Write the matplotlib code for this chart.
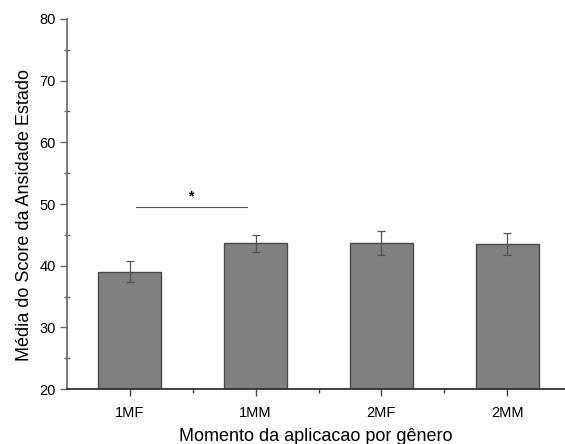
import matplotlib
matplotlib.use("Agg")
import matplotlib.pyplot as plt
import numpy as np

plt.rcParams['font.family'] = ['Liberation Sans', 'DejaVu Sans']

# data
grupos = ['1MF', '1MM', '2MF', '2MM']
medias = [39.0, 43.6, 43.7, 43.5]
erros = [1.7, 1.35, 2.0, 1.75]
sig_par = (0, 1)
sig_altura = 49.5

fig = plt.figure(figsize=(5.65, 4.44), dpi=100)
ax = fig.add_axes([67 / 565, 1 - 389 / 444, (565 - 67) / 565, (389 - 19) / 444])

x = np.arange(1, len(grupos) + 1)
ax.bar(x, medias, width=0.5, color='#808080', edgecolor='#4a4a4a', linewidth=1.0,
       yerr=erros, error_kw=dict(ecolor='#555555', elinewidth=0.9, capsize=3, capthick=0.9),
       zorder=2)

# significance line
x1, x2 = x[sig_par[0]], x[sig_par[1]]
ax.plot([x1 + 0.05, x2 - 0.07], [sig_altura, sig_altura], color='#555555', lw=0.8)
ax.text((x1 + x2) / 2 - 0.02, sig_altura + 0.6, '*', ha='center', va='bottom',
        fontsize=10, fontweight='bold')

ax.set_xlim(0.5, 4.46)
ax.set_ylim(20, 80)
ax.set_xticks(x)
ax.set_xticklabels(grupos)
ax.set_xticks(x[:-1] + 0.5, minor=True)
ax.set_yticks(np.arange(20, 81, 10))
ax.set_yticks(np.arange(25, 80, 10), minor=True)

for s in ['top', 'right']:
    ax.spines[s].set_visible(False)
ax.spines['left'].set_color('#666666')
ax.spines['left'].set_linewidth(1.2)
ax.spines['bottom'].set_color('#222222')
ax.spines['bottom'].set_linewidth(1.2)

ax.tick_params(axis='y', which='major', direction='out', length=5, width=1, colors='#666666',
               labelcolor='black', labelsize=10.5, pad=3)
ax.tick_params(axis='y', which='minor', direction='inout', length=4, width=1, colors='#666666')
ax.tick_params(axis='x', which='major', direction='out', length=5, width=1, colors='#444444',
               labelcolor='black', labelsize=10.5, pad=7)
ax.tick_params(axis='x', which='minor', direction='out', length=3, width=1, colors='#444444')

ax.set_ylabel('Média do Score da Ansidade Estado', fontsize=13)
ax.yaxis.set_label_coords(-0.068, 0.47)
ax.set_xlabel('Momento da aplicacao por gênero', fontsize=13, labelpad=6)

fig.savefig('out.png', dpi=100)
